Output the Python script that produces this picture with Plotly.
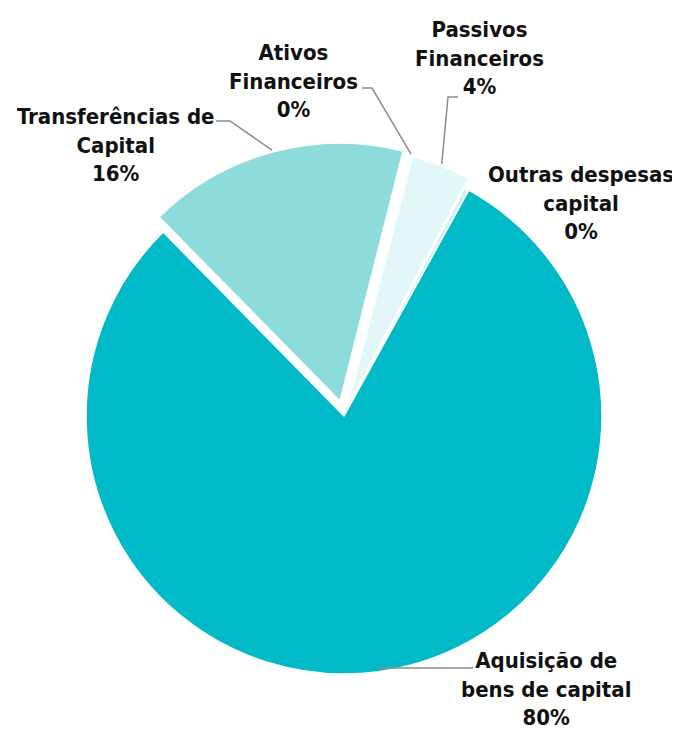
import math
import plotly.graph_objects as go

# ---- data ----
categories = ["Transferências de Capital", "Ativos Financeiros", "Passivos Financeiros",
              "Outras despesas capital", "Aquisição de bens de capital"]
label_text = ["Transferências de<br>Capital", "Ativos<br>Financeiros", "Passivos<br>Financeiros",
              "Outras despesas<br>capital", "Aquisição de<br>bens de capital"]
values = [16.3, 0.1, 3.7, 0.3, 79.6]
pulls = [0.06, 0.04, 0.04, 0.0, 0.0]
colors = ["#8EDBDB", "#B8ECEE", "#E3F7F8", "#D4F3F5", "#00BBC7"]

# ---- layout constants (screen pixels of the reference; page body has an 8px margin) ----
OFF = 8
W, H = 680 - OFF, 735 - OFF
CX, CY, R = 344, 416, 258
ROT = -44.5
FONT = "Liberation Sans Narrow, Arial Narrow, DejaVu Sans Condensed, sans-serif"


def px(x, y):
    """reference screen pixel -> paper coordinates"""
    return (x - OFF) / W, 1 - (y - OFF) / H


maxpull = max(pulls)
half = R * (1 + maxpull)
x0, y1 = px(CX - half, CY - half)
x1, y0 = px(CX + half, CY + half)

fig = go.Figure(go.Pie(
    labels=categories, values=values, sort=False, direction="clockwise",
    rotation=ROT, pull=pulls, textinfo="none", hoverinfo="label+percent",
    marker=dict(colors=colors, line=dict(color="white", width=1.5)),
    domain=dict(x=[x0, x1], y=[y0, y1]), showlegend=False,
))

# slice mid-angles from the data
total = sum(values)
mids = []
acc = 0.0
for v in values:
    mids.append(ROT + (acc + v / 2) / total * 360)
    acc += v


def anchor(i, extra=2):
    a = math.radians(mids[i])
    r = R * (1 + pulls[i]) + extra
    return CX + r * math.sin(a), CY - r * math.cos(a)


# label positions (centre x, middle y) in reference pixels
label_pos = [(116, 145), (293, 81), (480, 58), (581, 203), (546, 689)]
annotations = []
for i, (lx, ly) in enumerate(label_pos):
    pct = round(values[i] / total * 100)
    xx, yy = px(lx, ly)
    annotations.append(dict(
        x=xx, y=yy, xref="paper", yref="paper", xanchor="center", yanchor="middle",
        text=f"<b>{label_text[i]}<br>{pct}%</b>", showarrow=False, align="center",
        borderpad=0, font=dict(family=FONT, size=22, color="#111111"),
    ))

# leader lines: elbow start points (reference pixels)
elbows = {0: [(216, 121), (230, 121)], 1: [(362, 88), (372, 88)],
          2: [(458, 97), (448, 97)], 4: [(473, 668)]}
shapes = []
for i, pts in elbows.items():
    ax_, ay_ = anchor(i, extra=2 if i != 4 else -1)
    if i == 4:
        ay_ = pts[0][1]
    seq = pts + [(ax_, ay_)]
    path = "M " + " L ".join(f"{px(x, y)[0]:.5f},{px(x, y)[1]:.5f}" for x, y in seq)
    shapes.append(dict(type="path", xref="paper", yref="paper", path=path,
                       line=dict(color="#8C8C8C", width=1.5)))

fig.update_layout(
    width=W, height=H, margin=dict(l=0, r=0, t=0, b=0),
    paper_bgcolor="white", plot_bgcolor="white",
    annotations=annotations, shapes=shapes,
)

fig.write_html("out.html")
